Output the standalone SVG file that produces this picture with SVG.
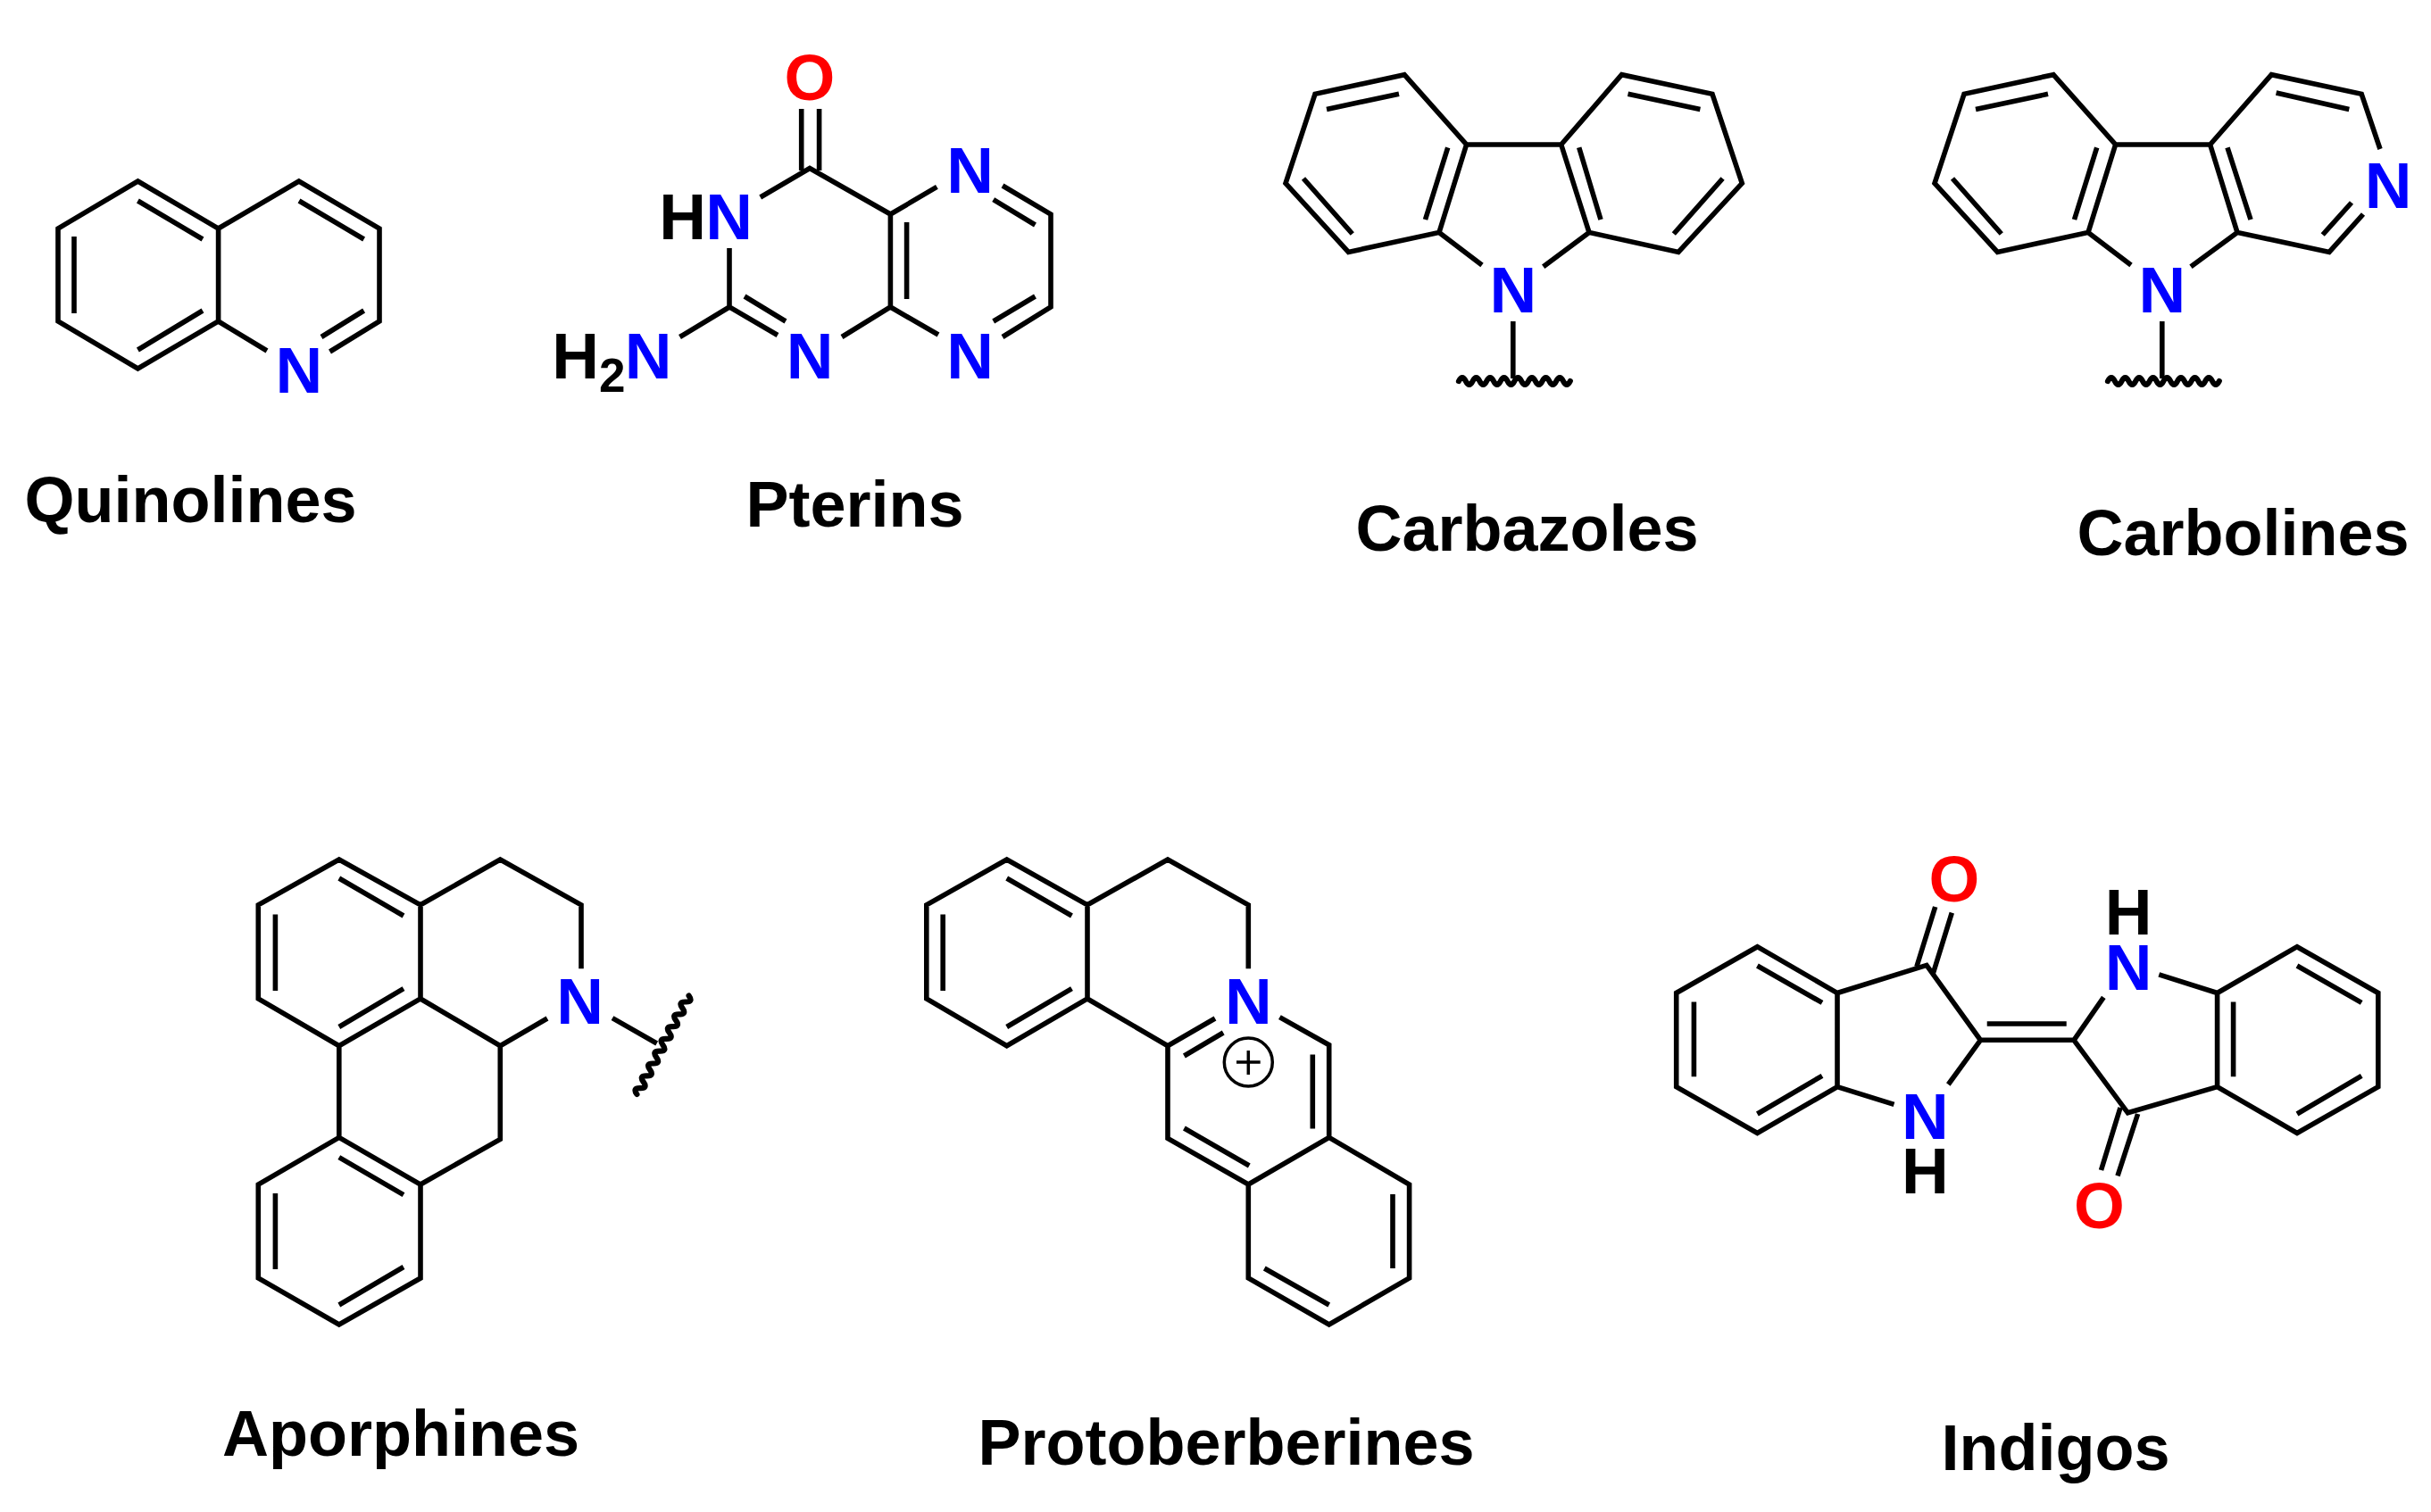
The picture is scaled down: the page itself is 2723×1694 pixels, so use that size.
<svg xmlns="http://www.w3.org/2000/svg" xmlns:xlink="http://www.w3.org/1999/xlink" width="2723" height="1694" viewBox="0 0 2723 1694">
<style>
text{font-family:"Liberation Sans",Arial,sans-serif;font-weight:700}
.l{font-size:72px;fill:#000}
.a{font-size:73px;text-anchor:middle}
.n{fill:#0000ff}.o{fill:#ff0000}.h{fill:#000}
.s{font-size:53px;fill:#000}
.b{fill:none;stroke:#000;stroke-width:5.6;stroke-linejoin:miter;stroke-linecap:butt}
.w{fill:none;stroke:#000;stroke-width:6.2;stroke-linecap:round}
</style>
<defs>
<path id="wave" class="w" d="M0,0q3.9,-8 7.8,0t7.8,0t7.8,0t7.8,0t7.8,0t7.8,0t7.8,0t7.8,0t7.8,0t7.8,0t7.8,0t7.8,0t7.8,0t7.8,0t7.8,0t7.8,0"/>
</defs>
<rect width="2723" height="1694" fill="#fff"/>

<g id="quinolines">
<path class="b" d="M154.4,203L244.6,256V360L154.4,413L65,360V256ZM154.4,225L227,268M83,265V351M227,348L154.4,392M244.6,256L334.8,203L425,256V360L369.5,394M244.6,360L299,393M335,225L407.6,268M407.6,348L360,377.5"/>
<text class="a n" x="334.8" y="440">N</text>
<text class="l" x="27.5" y="584.5">Quinolines</text>
</g>

<g id="pterins">
<path class="b" d="M897.7,122V191M917.6,122V191M851.7,221L907,188.6L997.4,240V344L943,377.5M817,278V344L871,375.5M834,332L880,360M817,344L761.5,377.5M1015.6,249V335M997.4,240L1049.4,209.4M997.4,344L1051,375M1123,208L1177,240V344L1123,377.5M1112.7,223.7L1159.5,252M1159.5,332L1112.7,360"/>
<text class="a o" x="907" y="112">O</text>
<text class="a h" x="764.5" y="267.5">H</text><text class="a n" x="816.5" y="267.5">N</text>
<text class="a h" x="644.5" y="423.5">H</text><text class="s" x="671" y="439">2</text><text class="a n" x="726" y="423.5">N</text>
<text class="a n" x="907" y="423.5">N</text>
<text class="a n" x="1086.7" y="423.5">N</text>
<text class="a n" x="1086.7" y="215.5">N</text>
<text class="l" x="835.5" y="590">Pterins</text>
</g>

<g id="carbazoles">
<path class="b" d="M1573,83.7L1473,105.3L1440,205.3L1510.4,282.4L1612,260.4L1642.6,162ZM1642.6,162H1748.7L1780,260.4L1880,282.4L1951.3,205.3L1918,105.3L1816.5,83.7L1748.7,162M1612,260.4L1660,297M1780,260.4L1728.7,298.8M1694.8,360V424M1567,105.3L1486,122.4M1460,200L1514.8,262M1621.7,165.3L1596.5,246M1768.7,165.3L1793,246M1929.6,200L1874.8,262M1823.5,105.3L1904.4,122.4"/>
<use xlink:href="#wave" href="#wave" transform="translate(1634,427)"/>
<text class="a n" x="1694.8" y="350">N</text>
<text class="l" x="1518.5" y="617">Carbazoles</text>
</g>

<g id="carbolines">
<path class="b" d="M2300,83.7L2200,105.3L2167,205.3L2237.4,282.4L2339,260.4L2369.6,162ZM2369.6,162H2475.6L2506,260.4L2609,282.4L2647,240M2475.6,162L2544.3,83.7L2645.2,105.3L2666,167M2339,260.4L2387,297M2506,260.4L2454,298.8M2421.8,360V424M2294,105.3L2213,122.4M2187,200L2241.8,262M2348.7,165.3L2323.5,246M2495,165.3L2521,246M2634,227L2601.7,263M2549.6,104L2631.3,122.4"/>
<use xlink:href="#wave" href="#wave" transform="translate(2361,427)"/>
<text class="a n" x="2421.8" y="350">N</text>
<text class="a n" x="2675" y="232.6">N</text>
<text class="l" x="2326.5" y="622">Carbolines</text>
</g>

<g id="aporphines">
<path class="b" d="M379.8,963L471,1013.8V1119L379.8,1171.7L289.3,1119V1013.8ZM471,1013.8L560.3,963L651,1013.8V1085.3M471,1119L560.3,1171.7L613,1141M560.3,1171.7V1276.4L471,1327M686,1140.6L735.7,1169M379.8,1171.7V1274.4M379.8,1274.4L471,1327V1432L379.8,1484L289.3,1432V1327ZM379.8,984L452,1026M308.4,1024.6V1110M452,1107.6L379.8,1150.5M379.8,1296.6L452,1338.6M308.4,1337V1422M452,1419.5L379.8,1462"/>
<use xlink:href="#wave" href="#wave" transform="translate(713.4,1226) rotate(-62.2)"/>
<text class="a n" x="649.6" y="1147">N</text>
<text class="l" x="249" y="1630.5">Aporphines</text>
</g>

<g id="protoberberines">
<path class="b" d="M1127.7,963L1218,1013.8V1119L1127.7,1171.7L1037.8,1119V1013.8ZM1218,1013.8L1308,963L1398.3,1013.8V1085.3M1218,1119L1308,1171.7L1361,1141M1308,1171.7V1275.4L1398.3,1327L1488.7,1274.4V1170.7L1433.4,1139.6M1488.7,1274.4L1578.6,1327V1432L1488.7,1484L1398.3,1432V1327M1326.4,1183L1370.2,1157M1470.3,1181.6V1264.5M1326.4,1264L1399.3,1306M1560,1338V1421M1488.7,1462L1416.3,1421M1127.7,984L1200.5,1026M1056.2,1024.6V1110M1200.5,1107.6L1127.7,1150.5"/>
<circle cx="1398.3" cy="1190" r="27" fill="none" stroke="#000" stroke-width="3.5"/>
<path d="M1385,1190H1411.7M1398.3,1177V1204" fill="none" stroke="#000" stroke-width="3.5"/>
<text class="a n" x="1398.3" y="1147">N</text>
<text class="l" x="1095.5" y="1641">Protoberberines</text>
</g>

<g id="indigos">
<path class="b" d="M1968.4,1060.7L2058,1112.5V1217.6L1968.4,1269.5L1877.7,1217.6V1112.5ZM1968.4,1082L2041,1123.4M1897.4,1122.4V1206.3M2041,1205.3L1968.4,1248M2058,1112.5L2158,1081.4L2218.4,1165.3L2182.3,1215M2058,1217.6L2121.5,1237.4M2146.9,1083L2167.7,1016M2165.5,1090L2186.3,1022.7M2218.4,1165.3H2323M2225.7,1147H2314.7M2323,1165.3L2356.3,1117.4M2418.3,1091.8L2483.6,1112.5M2323,1165.3L2383.4,1246.8L2483.6,1217.6M2375,1241L2353.5,1311M2394.6,1248L2372,1317.3M2483.6,1112.5L2573,1060.7L2663.8,1112.5V1217.6L2573,1269.5L2483.6,1217.6ZM2501.6,1122.4V1206.3M2573,1082L2645.2,1123.4M2645.2,1205.3L2573,1248"/>
<text class="a o" x="2189" y="1009.5">O</text>
<text class="a n" x="2156.4" y="1276.4">N</text>
<text class="a h" x="2156.4" y="1337">H</text>
<text class="a n" x="2384" y="1108.5">N</text>
<text class="a h" x="2384" y="1047">H</text>
<text class="a o" x="2351.3" y="1376">O</text>
<text class="l" x="2174.5" y="1647">Indigos</text>
</g>
</svg>
